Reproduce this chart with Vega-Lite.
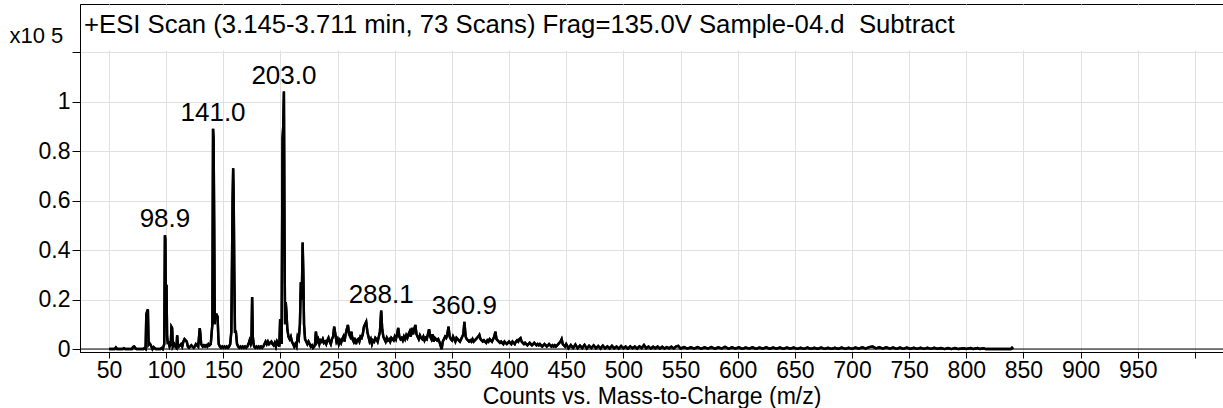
{
  "$schema": "https://vega.github.io/schema/vega-lite/v6.json",
  "width": 1143,
  "height": 348,
  "autosize": {"type": "none"},
  "padding": {"left": 80, "top": 4, "right": 0, "bottom": 56},
  "background": "white",
  "config": {
    "view": {"stroke": "black", "strokeWidth": 1},
    "font": "Liberation Sans"
  },
  "datasets": {
    "spec": [
      {"mz":50,"i":0},{"mz":55,"i":0},{"mz":56,"i":0.006},{"mz":57,"i":0},{"mz":62,"i":0},{"mz":63,"i":0.003},{"mz":64,"i":0},{"mz":70,"i":0},{"mz":71,"i":0.008},{"mz":72,"i":0.01},{"mz":73,"i":0.004},{"mz":74,"i":0},{"mz":80,"i":0},{"mz":81,"i":0.004},{"mz":82,"i":0},
      {"mz":82.6,"i":0.14},{"mz":83.2,"i":0.15},{"mz":84,"i":0.16},{"mz":84.6,"i":0.02},{"mz":85.2,"i":0.025},{"mz":86,"i":0.02},{"mz":87,"i":0.01},{"mz":88,"i":0},{"mz":89,"i":0.008},{"mz":90,"i":0.004},{"mz":91,"i":0},{"mz":95,"i":0},{"mz":96,"i":0.004},{"mz":97,"i":0},
      {"mz":98.3,"i":0.02},{"mz":98.9,"i":0.46},{"mz":99.3,"i":0.44},{"mz":99.8,"i":0.1},{"mz":100.3,"i":0.26},{"mz":100.8,"i":0.05},{"mz":101.5,"i":0.02},{"mz":102,"i":0.03},{"mz":103,"i":0.01},{"mz":104,"i":0.02},{"mz":104.6,"i":0.09},{"mz":105.2,"i":0.085},{"mz":105.8,"i":0.01},{"mz":107,"i":0.02},{"mz":108,"i":0.01},{"mz":109,"i":0.005},{"mz":109.6,"i":0.055},{"mz":110.2,"i":0.02},{"mz":111,"i":0.01},{"mz":112,"i":0.015},{"mz":113,"i":0.02},{"mz":114,"i":0.01},{"mz":115,"i":0.03},{"mz":116,"i":0.04},{"mz":117,"i":0.035},{"mz":118,"i":0.03},{"mz":119,"i":0.01},{"mz":120,"i":0.005},
      {"mz":121,"i":0.01},{"mz":122,"i":0.015},{"mz":123,"i":0.01},{"mz":124,"i":0.005},{"mz":125,"i":0.01},{"mz":126,"i":0.02},{"mz":127,"i":0.015},{"mz":128,"i":0.01},{"mz":129.4,"i":0.085},{"mz":130,"i":0.055},{"mz":130.6,"i":0.02},{"mz":132,"i":0.01},{"mz":133,"i":0.015},{"mz":134,"i":0.01},{"mz":135,"i":0.015},{"mz":136,"i":0.01},{"mz":137,"i":0.02},{"mz":138,"i":0.015},{"mz":139,"i":0.02},
      {"mz":140.4,"i":0.1},{"mz":141,"i":0.89},{"mz":141.5,"i":0.85},{"mz":142,"i":0.5},{"mz":142.5,"i":0.1},{"mz":143,"i":0.14},{"mz":144,"i":0.14},{"mz":145,"i":0.13},{"mz":145.6,"i":0.05},{"mz":146,"i":0.02},{"mz":147,"i":0.01},{"mz":148,"i":0.005},{"mz":149,"i":0.01},{"mz":150,"i":0.005},{"mz":151,"i":0.01},{"mz":152,"i":0.005},{"mz":153,"i":0.01},{"mz":154,"i":0.005},{"mz":155,"i":0.01},{"mz":156,"i":0.02},{"mz":157,"i":0.07},
      {"mz":158.1,"i":0.6},{"mz":158.6,"i":0.73},{"mz":159.1,"i":0.6},{"mz":159.6,"i":0.3},{"mz":160.2,"i":0.07},{"mz":161,"i":0.07},{"mz":162,"i":0.02},{"mz":163,"i":0.01},{"mz":164,"i":0.005},{"mz":165,"i":0.01},{"mz":166,"i":0.005},{"mz":167,"i":0.01},{"mz":168,"i":0.005},{"mz":169,"i":0.01},{"mz":170,"i":0.005},{"mz":171,"i":0.01},{"mz":172,"i":0.02},{"mz":173,"i":0.035},{"mz":174,"i":0.02},{"mz":174.6,"i":0.03},{"mz":175.2,"i":0.21},{"mz":175.8,"i":0.05},{"mz":176.5,"i":0.02},{"mz":177,"i":0.01},{"mz":178,"i":0.005},{"mz":179,"i":0.01},{"mz":180,"i":0.005},
      {"mz":181,"i":0.01},{"mz":182,"i":0.005},{"mz":183,"i":0.01},{"mz":184,"i":0.005},{"mz":185,"i":0.01},{"mz":186,"i":0.02},{"mz":187,"i":0.03},{"mz":188,"i":0.02},{"mz":189,"i":0.03},{"mz":190,"i":0.02},{"mz":191,"i":0.025},{"mz":192,"i":0.03},{"mz":193,"i":0.02},{"mz":194,"i":0.015},{"mz":195,"i":0.025},{"mz":196,"i":0.01},{"mz":197,"i":0.03},{"mz":198,"i":0.02},{"mz":199,"i":0.01},
      {"mz":199.7,"i":0.12},{"mz":200.4,"i":0.1},{"mz":201,"i":0.02},{"mz":201.8,"i":0.85},{"mz":202.4,"i":0.9},{"mz":203,"i":1.04},{"mz":203.5,"i":0.5},{"mz":204,"i":0.1},{"mz":204.6,"i":0.19},{"mz":205.2,"i":0.15},{"mz":206,"i":0.08},{"mz":207,"i":0.05},{"mz":208,"i":0.04},{"mz":209,"i":0.05},{"mz":210,"i":0.03},{"mz":211,"i":0.02},{"mz":212,"i":0.01},{"mz":213,"i":0.02},{"mz":214,"i":0.01},{"mz":215,"i":0.05},{"mz":216,"i":0.04},{"mz":217,"i":0.1},{"mz":217.8,"i":0.27},{"mz":218.6,"i":0.2},{"mz":219.4,"i":0.43},{"mz":220,"i":0.3},{"mz":220.6,"i":0.1},
      {"mz":221.5,"i":0.04},{"mz":222.5,"i":0.03},{"mz":223.5,"i":0.02},{"mz":224.5,"i":0.03},{"mz":225.5,"i":0.02},{"mz":226.5,"i":0.01},{"mz":227.5,"i":0.015},{"mz":228.5,"i":0.005},{"mz":229.5,"i":0.01},{"mz":230.2,"i":0.02},{"mz":231,"i":0.07},{"mz":232,"i":0.03},{"mz":233,"i":0.04},{"mz":234,"i":0.02},{"mz":235,"i":0.035},{"mz":236,"i":0.03},{"mz":237,"i":0.04},{"mz":238,"i":0.025},{"mz":239,"i":0.03},{"mz":240,"i":0.02},
      {"mz":241,"i":0.035},{"mz":242,"i":0.045},{"mz":243,"i":0.03},{"mz":244,"i":0.02},{"mz":245,"i":0.04},{"mz":246,"i":0.05},{"mz":247,"i":0.09},{"mz":248,"i":0.06},{"mz":249,"i":0.03},{"mz":250,"i":0.04},{"mz":251,"i":0.02},{"mz":252,"i":0.035},{"mz":253,"i":0.025},{"mz":254,"i":0.04},{"mz":255,"i":0.05},{"mz":256,"i":0.03},{"mz":257,"i":0.06},{"mz":258,"i":0.08},{"mz":259,"i":0.097},{"mz":260,"i":0.06},
      {"mz":261,"i":0.05},{"mz":262,"i":0.07},{"mz":263,"i":0.04},{"mz":264,"i":0.03},{"mz":265,"i":0.045},{"mz":266,"i":0.02},{"mz":267,"i":0.035},{"mz":268,"i":0.04},{"mz":269,"i":0.03},{"mz":270,"i":0.05},{"mz":271,"i":0.045},{"mz":272,"i":0.06},{"mz":273,"i":0.09},{"mz":274,"i":0.1},{"mz":275,"i":0.11},{"mz":276,"i":0.07},{"mz":277,"i":0.05},{"mz":278,"i":0.03},{"mz":279,"i":0.04},{"mz":280,"i":0.02},
      {"mz":281,"i":0.035},{"mz":282,"i":0.03},{"mz":283,"i":0.045},{"mz":284,"i":0.04},{"mz":285,"i":0.03},{"mz":286,"i":0.05},{"mz":287,"i":0.07},{"mz":288.1,"i":0.155},{"mz":289,"i":0.08},{"mz":290,"i":0.05},{"mz":291,"i":0.04},{"mz":292,"i":0.03},{"mz":293,"i":0.045},{"mz":294,"i":0.035},{"mz":295,"i":0.04},{"mz":296,"i":0.03},{"mz":297,"i":0.045},{"mz":298,"i":0.04},{"mz":299,"i":0.035},{"mz":300,"i":0.05},
      {"mz":301,"i":0.04},{"mz":302,"i":0.06},{"mz":303,"i":0.085},{"mz":304,"i":0.05},{"mz":305,"i":0.04},{"mz":306,"i":0.045},{"mz":307,"i":0.035},{"mz":308,"i":0.05},{"mz":309,"i":0.04},{"mz":310,"i":0.055},{"mz":311,"i":0.045},{"mz":312,"i":0.06},{"mz":313,"i":0.07},{"mz":314,"i":0.05},{"mz":315,"i":0.085},{"mz":316,"i":0.06},{"mz":317,"i":0.08},{"mz":318,"i":0.097},{"mz":319,"i":0.06},{"mz":320,"i":0.05},
      {"mz":321,"i":0.04},{"mz":322,"i":0.055},{"mz":323,"i":0.045},{"mz":324,"i":0.04},{"mz":325,"i":0.05},{"mz":326,"i":0.035},{"mz":327,"i":0.045},{"mz":328,"i":0.04},{"mz":329,"i":0.06},{"mz":330,"i":0.08},{"mz":331,"i":0.05},{"mz":332,"i":0.04},{"mz":333,"i":0.06},{"mz":334,"i":0.03},{"mz":335,"i":0.045},{"mz":336,"i":0.04},{"mz":337,"i":0.035},{"mz":338,"i":0.04},{"mz":339,"i":0.03},{"mz":340,"i":0.015},
      {"mz":341,"i":0},{"mz":342,"i":0.03},{"mz":343,"i":0.04},{"mz":344,"i":0.05},{"mz":345,"i":0.045},{"mz":346,"i":0.06},{"mz":347,"i":0.09},{"mz":348,"i":0.05},{"mz":349,"i":0.04},{"mz":350,"i":0.035},{"mz":351,"i":0.05},{"mz":352,"i":0.04},{"mz":353,"i":0.03},{"mz":354,"i":0.045},{"mz":355,"i":0.04},{"mz":356,"i":0.035},{"mz":357,"i":0.03},{"mz":358,"i":0.04},{"mz":359,"i":0.05},{"mz":360,"i":0.06},
      {"mz":360.9,"i":0.11},{"mz":362,"i":0.05},{"mz":363,"i":0.04},{"mz":364,"i":0.035},{"mz":365,"i":0.03},{"mz":366,"i":0.035},{"mz":367,"i":0.03},{"mz":368,"i":0.04},{"mz":369,"i":0.03},{"mz":370,"i":0.035},{"mz":371,"i":0.04},{"mz":372,"i":0.045},{"mz":373,"i":0.05},{"mz":374,"i":0.057},{"mz":375,"i":0.04},{"mz":376,"i":0.035},{"mz":377,"i":0.03},{"mz":378,"i":0.035},{"mz":379,"i":0.03},{"mz":380,"i":0.025},
      {"mz":381,"i":0.035},{"mz":382,"i":0.03},{"mz":383,"i":0.04},{"mz":384,"i":0.035},{"mz":385,"i":0.03},{"mz":386,"i":0.04},{"mz":387,"i":0.05},{"mz":388,"i":0.07},{"mz":389,"i":0.04},{"mz":390,"i":0.035},{"mz":391,"i":0.03},{"mz":392,"i":0.025},{"mz":393,"i":0.03},{"mz":394,"i":0.025},{"mz":395,"i":0.02},{"mz":396,"i":0.03},{"mz":397,"i":0.025},{"mz":398,"i":0.02},{"mz":399,"i":0.025},{"mz":400,"i":0.03},
      {"mz":401,"i":0.025},{"mz":402,"i":0.02},{"mz":403,"i":0.03},{"mz":404,"i":0.025},{"mz":405,"i":0.02},{"mz":406,"i":0.03},{"mz":407,"i":0.035},{"mz":408,"i":0.03},{"mz":409,"i":0.04},{"mz":410,"i":0.044},{"mz":411,"i":0.03},{"mz":412,"i":0.025},{"mz":413,"i":0.02},{"mz":414,"i":0.025},{"mz":415,"i":0.02},{"mz":416,"i":0.015},{"mz":417,"i":0.02},{"mz":418,"i":0.025},{"mz":419,"i":0.02},{"mz":420,"i":0.015},
      {"mz":421,"i":0.02},{"mz":422,"i":0.025},{"mz":423,"i":0.02},{"mz":424,"i":0.015},{"mz":425,"i":0.02},{"mz":426,"i":0.015},{"mz":427,"i":0.02},{"mz":428,"i":0.015},{"mz":429,"i":0.01},{"mz":430,"i":0.015},{"mz":431,"i":0.02},{"mz":432,"i":0.015},{"mz":433,"i":0.01},{"mz":434,"i":0.015},{"mz":435,"i":0.02},{"mz":436,"i":0.015},{"mz":437,"i":0.01},{"mz":438,"i":0.015},{"mz":439,"i":0.01},{"mz":440,"i":0.015},
      {"mz":441,"i":0.01},{"mz":442,"i":0.015},{"mz":443,"i":0.02},{"mz":444,"i":0.025},{"mz":445,"i":0.03},{"mz":446,"i":0.04},{"mz":447,"i":0.02},{"mz":448,"i":0.015},{"mz":449,"i":0.01},
      {"mz":450,"i":0.02},{"mz":452,"i":0.003},{"mz":454,"i":0.016},{"mz":456,"i":0.004},{"mz":458,"i":0.018},{"mz":460,"i":0.003},{"mz":462,"i":0.014},{"mz":464,"i":0.004},{"mz":466,"i":0.017},{"mz":468,"i":0.002},{"mz":470,"i":0.013},{"mz":472,"i":0.004},{"mz":474,"i":0.015},{"mz":476,"i":0.003},{"mz":478,"i":0.012},{"mz":480,"i":0.002},{"mz":482,"i":0.014},{"mz":484,"i":0.003},{"mz":486,"i":0.011},{"mz":488,"i":0.002},
      {"mz":490,"i":0.013},{"mz":492,"i":0.003},{"mz":494,"i":0.01},{"mz":496,"i":0.002},{"mz":498,"i":0.012},{"mz":500,"i":0.003},{"mz":502,"i":0.01},{"mz":504,"i":0.002},{"mz":506,"i":0.011},{"mz":508,"i":0.003},{"mz":510,"i":0.01},{"mz":512,"i":0.002},{"mz":514,"i":0.011},{"mz":516,"i":0.004},{"mz":518,"i":0.016},{"mz":520,"i":0.003},{"mz":522,"i":0.01},{"mz":524,"i":0.002},{"mz":526,"i":0.009},{"mz":528,"i":0.003},
      {"mz":530,"i":0.01},{"mz":532,"i":0.002},{"mz":534,"i":0.009},{"mz":536,"i":0.002},{"mz":538,"i":0.008},{"mz":540,"i":0.003},{"mz":542,"i":0.009},{"mz":544,"i":0.002},{"mz":546,"i":0.01},{"mz":548,"i":0.013},{"mz":550,"i":0.002},
      {"mz":553,"i":0.008},{"mz":556,"i":0.002},{"mz":559,"i":0.007},{"mz":562,"i":0.002},{"mz":565,"i":0.008},{"mz":568,"i":0.001},{"mz":571,"i":0.007},{"mz":574,"i":0.002},{"mz":577,"i":0.008},{"mz":580,"i":0.001},{"mz":583,"i":0.007},{"mz":586,"i":0.002},{"mz":589,"i":0.009},{"mz":592,"i":0.001},{"mz":595,"i":0.007},{"mz":598,"i":0.002},{"mz":601,"i":0.007},{"mz":604,"i":0.001},{"mz":607,"i":0.006},{"mz":610,"i":0.002},
      {"mz":613,"i":0.007},{"mz":616,"i":0.001},{"mz":619,"i":0.006},{"mz":622,"i":0.002},{"mz":625,"i":0.007},{"mz":628,"i":0.001},{"mz":631,"i":0.006},{"mz":634,"i":0.002},{"mz":637,"i":0.006},{"mz":640,"i":0.001},{"mz":643,"i":0.006},{"mz":646,"i":0.002},{"mz":649,"i":0.006},{"mz":652,"i":0.001},{"mz":655,"i":0.005},{"mz":658,"i":0.001},{"mz":661,"i":0.006},{"mz":664,"i":0.001},{"mz":667,"i":0.005},{"mz":670,"i":0.001},
      {"mz":673,"i":0.006},{"mz":676,"i":0.001},{"mz":679,"i":0.005},{"mz":682,"i":0.001},{"mz":685,"i":0.005},{"mz":688,"i":0.001},{"mz":691,"i":0.006},{"mz":694,"i":0.001},{"mz":697,"i":0.005},{"mz":700,"i":0.001},{"mz":703,"i":0.006},{"mz":706,"i":0.002},{"mz":709,"i":0.007},{"mz":712,"i":0.002},{"mz":715,"i":0.008},{"mz":718,"i":0.01},{"mz":721,"i":0.003},{"mz":724,"i":0.007},{"mz":727,"i":0.002},{"mz":730,"i":0.007},
      {"mz":733,"i":0.002},{"mz":736,"i":0.006},{"mz":739,"i":0.001},{"mz":742,"i":0.006},{"mz":745,"i":0.001},{"mz":748,"i":0.006},{"mz":751,"i":0.001},{"mz":754,"i":0.005},{"mz":757,"i":0.001},{"mz":760,"i":0.005},{"mz":763,"i":0.001},{"mz":766,"i":0.005},{"mz":769,"i":0.001},{"mz":772,"i":0.005},{"mz":775,"i":0.001},{"mz":778,"i":0.004},{"mz":781,"i":0},{"mz":784,"i":0.004},{"mz":787,"i":0},{"mz":790,"i":0.004},
      {"mz":793,"i":0},{"mz":798,"i":0.003},{"mz":800,"i":0},{"mz":804,"i":0.004},{"mz":806,"i":0},{"mz":810,"i":0.004},{"mz":812,"i":0},{"mz":815,"i":0.003},{"mz":817,"i":0},{"mz":839,"i":0},{"mz":840,"i":0.005},{"mz":841,"i":0}
    ],
    "peaks": [
      {"mz":98.9,"i":0.46,"t":"98.9"},
      {"mz":141.0,"i":0.89,"t":"141.0"},
      {"mz":203.0,"i":1.04,"t":"203.0"},
      {"mz":288.1,"i":0.155,"t":"288.1"},
      {"mz":360.9,"i":0.11,"t":"360.9"}
    ],
    "one": [{"k": 1}]
  },
  "layer": [
    {
      "data": {"name": "spec"},
      "mark": {"type": "line", "color": "black", "strokeWidth": 2.4, "clip": true},
      "encoding": {
        "x": {
          "field": "mz", "type": "quantitative",
          "scale": {"domain": [24.6, 1024.6], "nice": false, "zero": false},
          "axis": {
            "values": [50,100,150,200,250,300,350,400,450,500,550,600,650,700,750,800,850,900,950,1000],
            "format": "d",
            "labelExpr": "datum.value == 1000 ? '' : datum.label",
            "grid": true, "gridColor": "#e0e0e0", "gridWidth": 1,
            "domainColor": "black", "domainWidth": 1,
            "tickColor": "black", "tickSize": 6, "tickWidth": 1,
            "labelFont": "Liberation Sans", "labelFontSize": 23, "labelColor": "black",
            "labelBaseline": "alphabetic", "labelPadding": 19,
            "labelFlush": false, "labelOverlap": false,
            "title": "Counts vs. Mass-to-Charge (m/z)",
            "titleFont": "Liberation Sans", "titleFontSize": 23, "titleFontWeight": "normal", "titleColor": "black",
            "titleBaseline": "alphabetic", "titleY": 51
          }
        },
        "y": {
          "field": "i", "type": "quantitative",
          "scale": {"domain": [-0.012, 1.394], "nice": false, "zero": false},
          "axis": {
            "values": [0, 0.2, 0.4, 0.6, 0.8, 1, 1.2],
            "format": "~g",
            "labelExpr": "datum.value > 1.1 ? '' : datum.label",
            "grid": true, "gridColor": "#e0e0e0", "gridWidth": 1,
            "domainColor": "black", "domainWidth": 1,
            "tickColor": "black", "tickSize": 8, "tickWidth": 1,
            "labelFont": "Liberation Sans", "labelFontSize": 23, "labelColor": "black",
            "labelPadding": 2, "labelFlush": false, "labelOverlap": false,
            "title": "x10 5",
            "titleFont": "Liberation Sans", "titleFontSize": 22, "titleFontWeight": "normal", "titleColor": "black",
            "titleAngle": 0, "titleAlign": "left", "titleBaseline": "alphabetic",
            "titleX": -71, "titleY": 38
          }
        }
      }
    },
    {
      "data": {"name": "one"},
      "mark": {"type": "rect", "color": "white"},
      "encoding": {
        "x": {"datum": 26, "type": "quantitative"},
        "x2": {"datum": 1024.6},
        "y": {"datum": 1.207, "type": "quantitative"},
        "y2": {"datum": 1.388}
      }
    },
    {
      "data": {"name": "one"},
      "mark": {"type": "rule", "color": "black", "strokeWidth": 1},
      "encoding": {
        "x": {"datum": 24.6, "type": "quantitative"},
        "x2": {"datum": 1024.6},
        "y": {"datum": 0, "type": "quantitative"}
      }
    },
    {
      "data": {"name": "spec"},
      "mark": {"type": "line", "color": "black", "strokeWidth": 2.4, "clip": true},
      "encoding": {
        "x": {"field": "mz", "type": "quantitative"},
        "y": {"field": "i", "type": "quantitative"}
      }
    },
    {
      "data": {"name": "peaks"},
      "mark": {"type": "text", "align": "center", "baseline": "alphabetic", "dy": -8, "font": "Liberation Sans", "fontSize": 26, "color": "black"},
      "encoding": {
        "x": {"field": "mz", "type": "quantitative"},
        "y": {"field": "i", "type": "quantitative"},
        "text": {"field": "t"}
      }
    },
    {
      "data": {"name": "one"},
      "mark": {"type": "text", "align": "left", "baseline": "alphabetic", "dx": 4, "font": "Liberation Sans", "fontSize": 25.7, "color": "black"},
      "encoding": {
        "x": {"datum": 24.6, "type": "quantitative"},
        "y": {"datum": 1.275, "type": "quantitative"},
        "text": {"value": "+ESI Scan (3.145-3.711 min, 73 Scans) Frag=135.0V Sample-04.d\u00a0 Subtract"}
      }
    }
  ]
}
